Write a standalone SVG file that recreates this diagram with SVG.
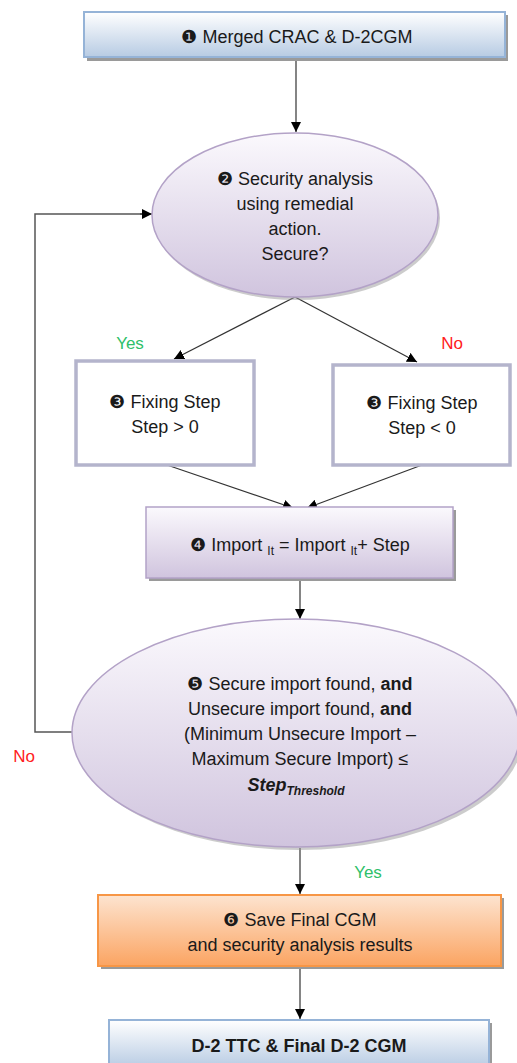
<svg xmlns="http://www.w3.org/2000/svg" width="517" height="1063" viewBox="0 0 517 1063">
<defs>
<linearGradient id="gBlue" x1="0" y1="0" x2="0" y2="1"><stop offset="0" stop-color="#ffffff"/><stop offset="1" stop-color="#b7cbe3"/></linearGradient>
<linearGradient id="gPurple" x1="0" y1="0" x2="0" y2="1"><stop offset="0" stop-color="#fbf9fd"/><stop offset="1" stop-color="#d0c4de"/></linearGradient>
<linearGradient id="gOrange" x1="0" y1="0" x2="0" y2="1"><stop offset="0" stop-color="#fde4d0"/><stop offset="1" stop-color="#fba462"/></linearGradient>
<marker id="arr" viewBox="0 0 10 10" refX="10" refY="5" markerWidth="10" markerHeight="10" markerUnits="userSpaceOnUse" orient="auto"><path d="M0,0 L10,5 L0,10 z" fill="#000"/></marker>
</defs>
<style>
text{font-family:"Liberation Sans",Arial,sans-serif;font-size:18px;fill:#1a1a1a;text-anchor:middle}
.b{font-weight:bold}
.sh{fill:#9a9a9a}
.blue{fill:url(#gBlue);stroke:#95b3d7;stroke-width:2}
.purple{fill:url(#gPurple);stroke:#b3a2c7;stroke-width:1.5}
.orange{fill:url(#gOrange);stroke:#f79646;stroke-width:2}
.plain{fill:#fff;stroke:#b4b4cc;stroke-width:3.5}
.c{fill:none;stroke:#333;stroke-width:1.2;marker-end:url(#arr)}
.loop{fill:none;stroke:#555;stroke-width:1.5}
.yes{fill:#2fbf6a;font-size:17px}
.no{fill:#ff2020;font-size:17px}
</style>
<rect width="517" height="1063" fill="#fff"/>
<g id="connectors">
<line class="c" x1="296" y1="58" x2="296" y2="132"/>
<line class="c" x1="295" y1="297" x2="174" y2="359"/>
<line class="c" x1="295" y1="297" x2="417" y2="362"/>
<line class="c" x1="167" y1="465" x2="293" y2="508"/>
<line class="c" x1="422" y1="465" x2="307" y2="508"/>
<line class="c" x1="300" y1="580" x2="300" y2="619"/>
<path class="loop" d="M72,732 H35 V214 H145"/>
<line class="c" x1="140" y1="214" x2="152" y2="214"/>
<line class="c" x1="300" y1="848" x2="300" y2="894"/>
<line class="c" x1="300" y1="967" x2="300" y2="1019"/>
<text class="yes" x="130" y="349">Yes</text>
<text class="no" x="452" y="349">No</text>
<text class="no" x="24" y="762">No</text>
<text class="yes" x="368" y="878">Yes</text>
</g>
<g id="n1">
<rect class="sh" x="87" y="15" width="421" height="46"/>
<rect class="blue" x="84" y="12" width="421" height="45"/>
<text x="297" y="43">❶ Merged CRAC &amp; D-2CGM</text>
</g>
<g id="n2">
<ellipse class="sh" cx="297" cy="218" rx="143" ry="82" opacity="0.5"/>
<ellipse class="purple" cx="295" cy="215" rx="143" ry="82"/>
<text x="295" y="185">❷ Security analysis</text>
<text x="295" y="210">using remedial</text>
<text x="295" y="235">action.</text>
<text x="295" y="260">Secure?</text>
</g>
<g id="n3a">
<rect class="plain" x="76" y="361" width="178" height="104"/>
<text x="165" y="408">❸ Fixing Step</text>
<text x="165" y="433">Step &gt; 0</text>
</g>
<g id="n3b">
<rect class="plain" x="333" y="365" width="177" height="100"/>
<text x="422" y="409">❸ Fixing Step</text>
<text x="422" y="434">Step &lt; 0</text>
</g>
<g id="n4">
<rect class="sh" x="149" y="510" width="307" height="71"/>
<rect class="purple" x="146" y="507" width="307" height="71"/>
<text x="300" y="551">❹ Import <tspan font-size="12" dy="4">It</tspan><tspan dy="-4"> = Import </tspan><tspan font-size="12" dy="4">It</tspan><tspan dy="-4">+ Step</tspan></text>
</g>
<g id="n5">
<ellipse class="sh" cx="299" cy="736" rx="224" ry="114" opacity="0.5"/>
<ellipse class="purple" cx="296" cy="733" rx="224" ry="114"/>
<text x="300" y="690">❺ Secure import found, <tspan class="b">and</tspan></text>
<text x="300" y="715">Unsecure import found, <tspan class="b">and</tspan></text>
<text x="300" y="740">(Minimum Unsecure Import –</text>
<text x="300" y="765">Maximum  Secure Import) ≤</text>
<text x="296" y="791" font-weight="bold" font-style="italic">Step<tspan font-size="12" dy="4">Threshold</tspan></text>
</g>
<g id="n6">
<rect class="sh" x="101" y="898" width="403" height="71"/>
<rect class="orange" x="98" y="895" width="403" height="71"/>
<text x="300" y="926">❻ Save Final CGM</text>
<text x="300" y="951">and security analysis results</text>
</g>
<g id="n7">
<rect class="sh" x="112" y="1023" width="380" height="45"/>
<rect class="blue" x="109" y="1020" width="380" height="48"/>
<text class="b" x="299" y="1052">D-2 TTC &amp; Final D-2 CGM</text>
</g>
</svg>
